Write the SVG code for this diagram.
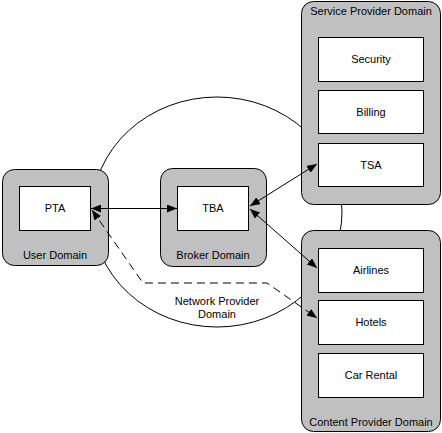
<svg xmlns="http://www.w3.org/2000/svg" width="442" height="433" viewBox="0 0 442 433">
<defs>
<style>
.dom{fill:#c0c0c0;stroke:#000;stroke-width:1}
.in{fill:#fff;stroke:#000;stroke-width:1}
text{font-family:"Liberation Sans",Arial,sans-serif;font-size:11px;fill:#000;text-anchor:middle}
.c{fill:none;stroke:#000;stroke-width:1}
.d{fill:none;stroke:#000;stroke-width:1;stroke-dasharray:8,5}
</style>
<marker id="ah" viewBox="0 0 10 8" refX="10" refY="4" markerWidth="10" markerHeight="8" markerUnits="userSpaceOnUse" orient="auto-start-reverse">
<path d="M0,0 L10,4 L0,8 Z" fill="#000"/>
</marker>
</defs>
<rect width="442" height="433" fill="#fff"/>
<g id="network-provider-domain">
<ellipse cx="217" cy="212" rx="125" ry="115" fill="none" stroke="#000"/>
<text x="217" y="305">Network Provider</text>
<text x="217" y="318">Domain</text>
</g>
<g id="user-domain">
<rect class="dom" x="2.5" y="169.5" width="106" height="96" rx="12"/>
<rect class="in" x="19.5" y="186.5" width="71" height="44"/>
<text x="55" y="212">PTA</text>
<text x="55" y="259">User Domain</text>
</g>
<g id="broker-domain">
<rect class="dom" x="160.5" y="168.5" width="106" height="98" rx="12"/>
<rect class="in" x="177.5" y="186.5" width="71" height="44"/>
<text x="213" y="212">TBA</text>
<text x="213" y="259">Broker Domain</text>
</g>
<g id="service-provider-domain">
<rect class="dom" x="301.5" y="1.5" width="139" height="203" rx="12"/>
<text x="371" y="15">Service Provider Domain</text>
<g id="security"><rect class="in" x="318.5" y="37.5" width="105" height="44"/><text x="371" y="63">Security</text></g>
<g id="billing"><rect class="in" x="318.5" y="90.5" width="105" height="43"/><text x="371" y="116">Billing</text></g>
<g id="tsa"><rect class="in" x="318.5" y="143.5" width="105" height="43"/><text x="371" y="169">TSA</text></g>
</g>
<g id="content-provider-domain">
<rect class="dom" x="301.5" y="230.5" width="139" height="201" rx="12"/>
<text x="371" y="426">Content Provider Domain</text>
<g id="airlines"><rect class="in" x="318.5" y="248.5" width="105" height="44"/><text x="371" y="274">Airlines</text></g>
<g id="hotels"><rect class="in" x="318.5" y="300.5" width="105" height="44"/><text x="371" y="326">Hotels</text></g>
<g id="car-rental"><rect class="in" x="318.5" y="353.5" width="105" height="44"/><text x="371" y="379">Car Rental</text></g>
</g>
<g id="connectors">
<line class="c" x1="91" y1="208.5" x2="177" y2="208.5" marker-start="url(#ah)" marker-end="url(#ah)"/>
<line class="c" x1="250" y1="206" x2="317" y2="164" marker-start="url(#ah)" marker-end="url(#ah)"/>
<line class="c" x1="250" y1="209" x2="317" y2="268" marker-start="url(#ah)" marker-end="url(#ah)"/>
<path class="d" d="M92,210 L143,283 L267,283 L317,318" marker-start="url(#ah)" marker-end="url(#ah)"/>
</g>
</svg>
